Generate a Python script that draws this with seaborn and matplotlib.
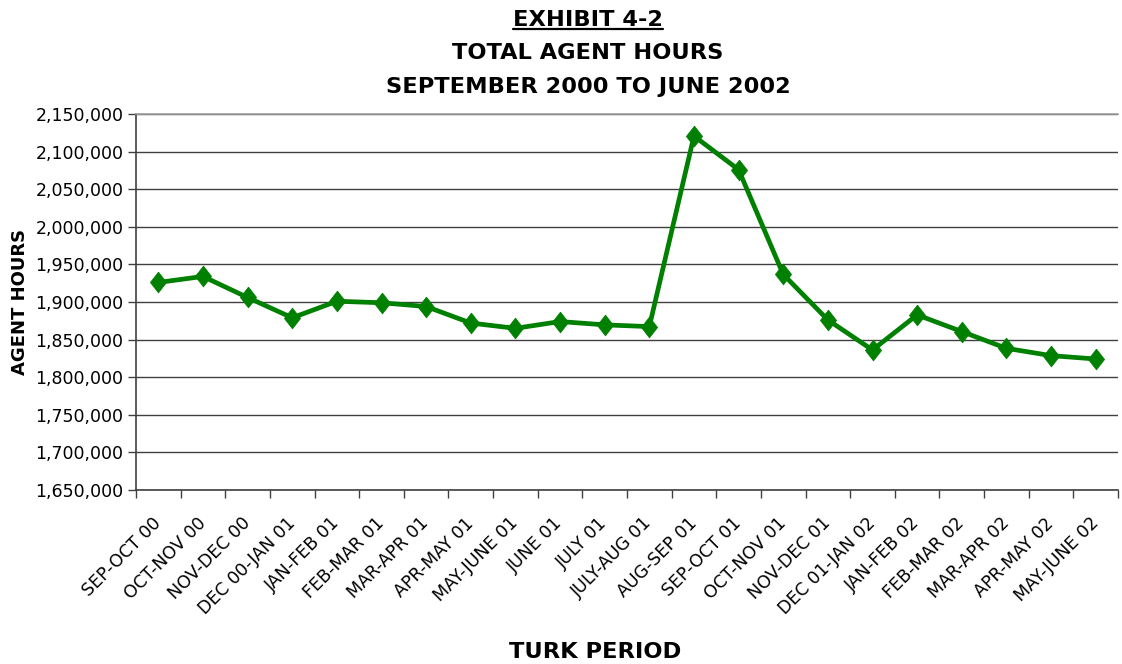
import matplotlib
matplotlib.use("Agg")
import matplotlib.pyplot as plt
import matplotlib.ticker as mticker
import seaborn as sns
import pandas as pd

periods = ["SEP-OCT 00", "OCT-NOV 00", "NOV-DEC 00", "DEC 00-JAN 01", "JAN-FEB 01",
           "FEB-MAR 01", "MAR-APR 01", "APR-MAY 01", "MAY-JUNE 01", "JUNE 01",
           "JULY 01", "JULY-AUG 01", "AUG-SEP 01", "SEP-OCT 01", "OCT-NOV 01",
           "NOV-DEC 01", "DEC 01-JAN 02", "JAN-FEB 02", "FEB-MAR 02", "MAR-APR 02",
           "APR-MAY 02", "MAY-JUNE 02"]
agent_hours = [1926000, 1934000, 1906000, 1879000, 1901000, 1899000, 1894000,
               1872000, 1865000, 1874000, 1869600, 1867300, 2120700, 2076000,
               1936700, 1876200, 1836200, 1882900, 1860700, 1838400, 1828700,
               1824200]

df = pd.DataFrame({"period": periods, "hours": agent_hours})

sns.set_theme(style="white")
plt.rcParams['font.family'] = ['DejaVu Sans']
plt.rcParams['text.color'] = 'black'
plt.rcParams['xtick.color'] = 'black'
plt.rcParams['ytick.color'] = 'black'
plt.rcParams['axes.labelcolor'] = 'black'

fig = plt.figure(figsize=(11.22, 6.64), dpi=100)
ax = fig.add_axes([136/1122, 1 - 490/664, (1118-136)/1122, (490-114)/664])

diamond = [(0, 1), (0.78, 0), (0, -1), (-0.78, 0), (0, 1)]
sns.lineplot(data=df, x="period", y="hours", ax=ax, color="#008000",
             linewidth=3.4, marker=diamond, markersize=15, markeredgecolor="#008000",
             markeredgewidth=0.5, sort=False)

ax.set_ylim(1650000, 2150000)
ax.set_xlim(-0.5, len(periods) - 0.5)
ax.yaxis.set_major_locator(mticker.MultipleLocator(50000))
ax.yaxis.set_major_formatter(mticker.FuncFormatter(lambda v, p: f"{int(v):,}"))
ax.grid(axis="y", color="#404040", linewidth=1.0)
ax.set_axisbelow(True)

ax.set_xticks(range(len(periods)))
ax.set_xticklabels(periods, rotation=45, ha="right", va="center",
                   rotation_mode="anchor", fontsize=12.5)
ax.xaxis.set_minor_locator(mticker.FixedLocator([i - 0.5 for i in range(len(periods) + 1)]))
ax.tick_params(axis="x", which="major", length=0, pad=22)
ax.tick_params(axis="x", which="minor", length=6, color="#404040", width=1, direction="out", bottom=True)
ax.tick_params(axis="y", which="major", length=6, color="#404040", width=1, direction="out", left=True, labelsize=12.5, pad=3)

for s in ["left", "bottom"]:
    ax.spines[s].set_color("#404040")
    ax.spines[s].set_linewidth(1.2)
ax.spines["top"].set_color("#a0a0a0")
ax.spines["top"].set_linewidth(1.2)
ax.spines["right"].set_visible(False)

ax.set_xlabel("")
ax.set_ylabel("AGENT HOURS", fontsize=13, fontweight="bold", labelpad=6)
ax.yaxis.set_label_coords(-0.109, 0.5)

t1 = fig.text(588/1122, 1 - 20/664, "EXHIBIT 4-2", ha="center", va="center",
              fontsize=16.2, fontweight="bold")
fig.canvas.draw()
bb = t1.get_window_extent()
fig.add_artist(plt.Line2D([bb.x0 / 1122, bb.x1 / 1122], [(bb.y0 + 1) / 664, (bb.y0 + 1) / 664],
                          transform=fig.transFigure, color="black", linewidth=1.6))
fig.text(588/1122, 1 - 53/664, "TOTAL AGENT HOURS", ha="center", va="center",
         fontsize=16.2, fontweight="bold")
fig.text(588/1122, 1 - 87/664, "SEPTEMBER 2000 TO JUNE 2002", ha="center", va="center",
         fontsize=16.2, fontweight="bold")
fig.text(595/1122, 1 - 652/664, "TURK PERIOD", ha="center", va="center",
         fontsize=16.2, fontweight="bold")

fig.savefig("out.png", dpi=100)
